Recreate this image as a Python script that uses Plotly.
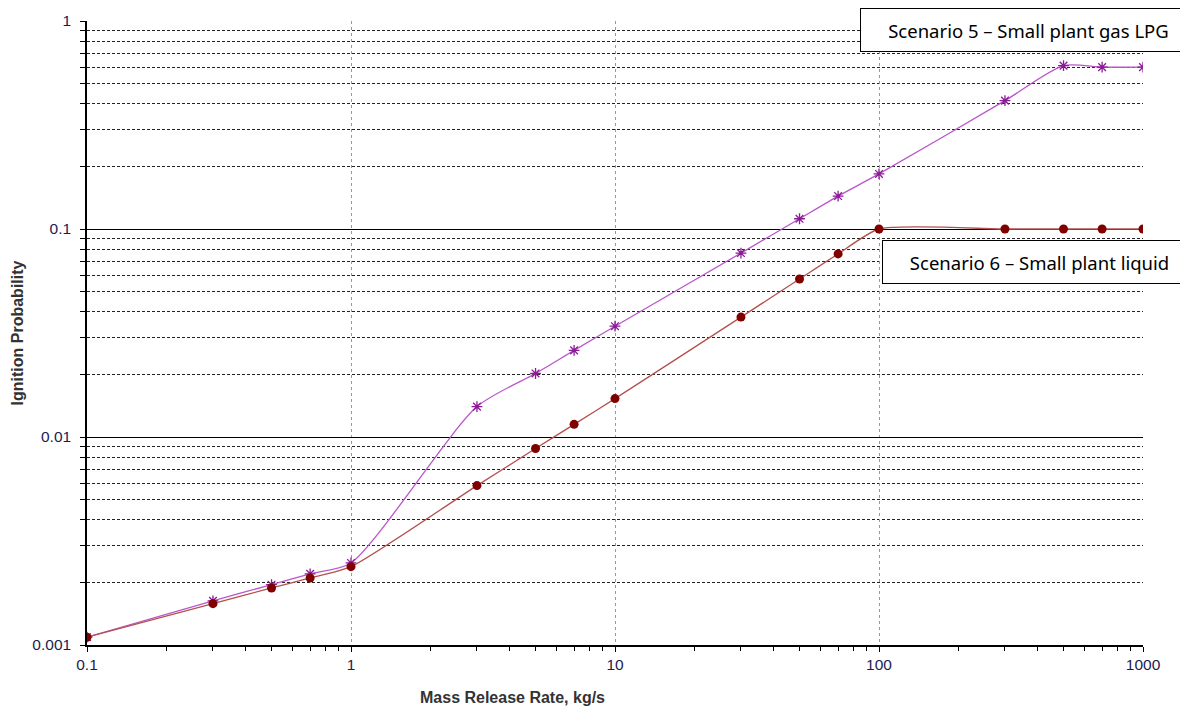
import plotly.graph_objects as go

mass_rate = [0.1, 0.3, 0.5, 0.7, 1, 3, 5, 7, 10, 30, 50, 70, 100, 300, 500, 700, 1000]
gas_lpg = [0.00109, 0.00163, 0.00195, 0.0022, 0.00248, 0.0140, 0.0202, 0.0261, 0.0341,
           0.0766, 0.112, 0.144, 0.184, 0.414, 0.61, 0.60, 0.60]
liquid = [0.00109, 0.00158, 0.00188, 0.0021, 0.00238, 0.00584, 0.0088, 0.0115, 0.0153,
          0.0377, 0.0575, 0.0759, 0.1, 0.1, 0.1, 0.1, 0.1]

y_major = [0.001, 0.01, 0.1, 1]
y_major_text = ["0.001", "0.01", "0.1", "1"]
y_minor = [m * d for d in [0.001, 0.01, 0.1] for m in range(2, 10)]
x_major = [0.1, 1, 10, 100, 1000]
x_major_text = ["0.1", "1", "10", "100", "1000"]
x_minor = [m * d for d in [0.1, 1, 10, 100] for m in range(2, 10)]

label5 = "Scenario 5 – Small plant gas LPG"
label6 = "Scenario 6 – Small plant liquid"
x_title = "Mass Release Rate, kg/s"
y_title = "Ignition Probability"

fig = go.Figure()
fig.add_trace(go.Scatter(
    x=mass_rate, y=gas_lpg, mode="lines+markers",
    line=dict(color="#bb55cc", width=1.3, shape="spline", smoothing=0.7),
    marker=dict(symbol="asterisk-open", size=9, color="#8a1a96",
                line=dict(color="#8a1a96", width=1.3)),
    name=label5, showlegend=False))
fig.add_trace(go.Scatter(
    x=mass_rate, y=liquid, mode="lines+markers",
    line=dict(color="#b4504c", width=1.3, shape="spline", smoothing=0.6),
    marker=dict(symbol="circle", size=9, color="#800000"),
    name=label6, showlegend=False))

tickfont = dict(family="Liberation Sans", size=15.5, color="#1c1c50")
titlefont = dict(family="Liberation Sans", size=16, color="#333333")

fig.update_xaxes(
    type="log", range=[-1, 3], automargin=False,
    tickmode="array", tickvals=x_major, ticktext=x_major_text,
    tickfont=tickfont, ticks="outside", ticklen=5, tickcolor="black",
    ticklabelstandoff=0,
    showgrid=True, gridcolor="#999999", griddash="3px,3px", gridwidth=1,
    showline=True, linecolor="black", linewidth=1.5, mirror=False,
    zeroline=False,
    minor=dict(tickmode="array", tickvals=x_minor, ticks="outside", ticklen=4,
               tickcolor="black", showgrid=False),
)
fig.update_yaxes(
    type="log", range=[-3, 0], automargin=False,
    tickmode="array", tickvals=y_major, ticktext=y_major_text,
    tickfont=tickfont, ticks="outside", ticklen=5, tickcolor="black",
    ticklabelstandoff=6,
    showgrid=True, gridcolor="black", gridwidth=1,
    showline=True, linecolor="black", linewidth=1.5,
    zeroline=False,
    minor=dict(tickmode="array", tickvals=y_minor, ticks="outside", ticklen=5,
               tickcolor="black", showgrid=True, gridcolor="#222222",
               griddash="3px,2px", gridwidth=1),
    title=dict(text="<b>" + y_title + "</b>", font=titlefont, standoff=5),
)

# x-axis title sits left of the plot centre in the original
fig.add_annotation(xref="paper", yref="paper", x=0.4034, y=-0.0834,
                   xanchor="center", yanchor="middle", text="<b>" + x_title + "</b>",
                   showarrow=False, font=titlefont)

ann_font = dict(family="Noto Sans, Open Sans", size=18.5, color="black")
fig.add_annotation(xref="paper", yref="paper", x=0.7320, y=0.9848,
                   xanchor="left", yanchor="middle", text=label5, showarrow=False,
                   font=ann_font, bgcolor="white", bordercolor="black",
                   borderwidth=1, borderpad=1, width=333, height=40)
fig.add_annotation(xref="paper", yref="paper", x=0.7528, y=0.6143,
                   xanchor="left", yanchor="middle", text=label6, showarrow=False,
                   font=ann_font, bgcolor="white", bordercolor="black",
                   borderwidth=1, borderpad=1, width=311, height=40)

# page body adds an 8px offset, so the figure is 8px smaller on each axis
fig.update_layout(
    width=1180, height=701,
    margin=dict(l=79, r=45, t=13, b=64),
    plot_bgcolor="white", paper_bgcolor="white",
)

fig.write_html("out.html")
